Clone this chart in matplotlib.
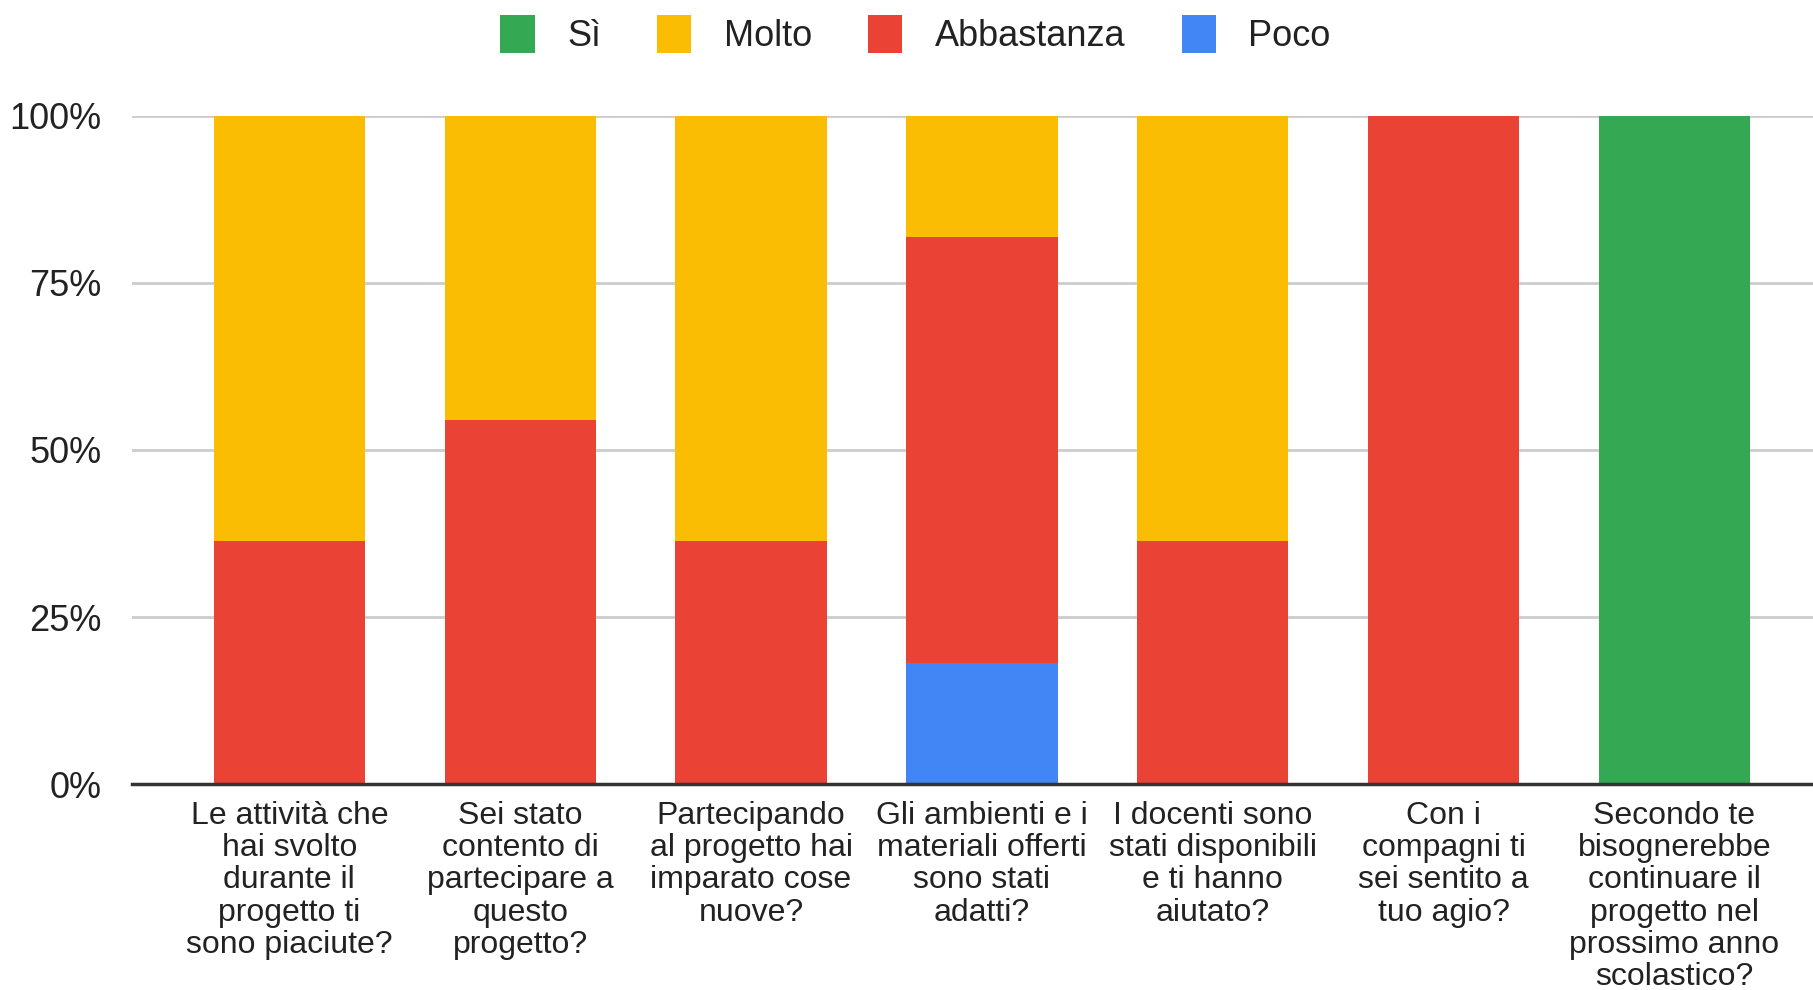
import matplotlib.pyplot as plt
import numpy as np

plt.rcParams['font.family'] = ['Liberation Sans', 'DejaVu Sans']

# domande (etichette asse x, già spezzate come nel grafico)
domande = [
    'Le attività che\nhai svolto\ndurante il\nprogetto ti\nsono piaciute?',
    'Sei stato\ncontento di\npartecipare a\nquesto\nprogetto?',
    'Partecipando\nal progetto hai\nimparato cose\nnuove?',
    'Gli ambienti e i\nmateriali offerti\nsono stati\nadatti?',
    'I docenti sono\nstati disponibili\ne ti hanno\naiutato?',
    'Con i\ncompagni ti\nsei sentito a\ntuo agio?',
    'Secondo te\nbisognerebbe\ncontinuare il\nprogetto nel\nprossimo anno\nscolastico?',
]

# risposte (numero di studenti, 11 in tutto)
si = [0, 0, 0, 0, 0, 0, 11]
molto = [7, 5, 7, 2, 7, 0, 0]
abbastanza = [4, 6, 4, 7, 4, 11, 0]
poco = [0, 0, 0, 2, 0, 0, 0]

serie = ['Sì', 'Molto', 'Abbastanza', 'Poco']
colori = {'Sì': '#34A853', 'Molto': '#FBBC04', 'Abbastanza': '#EA4335', 'Poco': '#4285F4'}

dati = {'Sì': np.array(si, float), 'Molto': np.array(molto, float),
        'Abbastanza': np.array(abbastanza, float), 'Poco': np.array(poco, float)}
totale = sum(dati.values())

fig = plt.figure(figsize=(18.13, 9.9), dpi=100)
ax = fig.add_axes([0.073, 0.208, 0.927, 0.675])

x = np.arange(len(domande))
base = np.zeros(len(domande))
barre = {}
# stack dal basso: Poco, Abbastanza, Molto, Sì
for nome in ['Poco', 'Abbastanza', 'Molto', 'Sì']:
    quota = dati[nome] / totale
    barre[nome] = ax.bar(x, quota, 0.655, bottom=base, color=colori[nome], linewidth=0, zorder=3)
    base = base + quota

ax.set_ylim(0, 1)
ax.set_xlim(-0.68, 6.6)
ax.set_yticks([0, 0.25, 0.5, 0.75, 1.0])
ax.set_yticklabels(['0%', '25%', '50%', '75%', '100%'])
ax.yaxis.grid(True, color='#cccccc', linewidth=2, zorder=0)
ax.set_axisbelow(True)
for s in ['top', 'right', 'left']:
    ax.spines[s].set_visible(False)
ax.spines['bottom'].set_color('#333333')
ax.spines['bottom'].set_linewidth(2.5)
ax.spines['bottom'].set_zorder(4)
ax.tick_params(axis='y', length=0, labelsize=26, labelcolor='#222222', pad=22)
ax.tick_params(axis='x', length=0, labelsize=23, labelcolor='#222222', pad=12)
ax.set_xticks(x)
ax.set_xticklabels(domande, linespacing=1.1)

handles = [barre[n] for n in serie]
fig.legend(handles, serie, loc='center', bbox_to_anchor=(0.505, 0.965), ncol=4,
           frameon=False, fontsize=26, handlelength=0.95, handleheight=1.25,
           columnspacing=1.55, handletextpad=0.9, labelcolor='#222222')

fig.savefig('out.png', dpi=100, facecolor='white')
